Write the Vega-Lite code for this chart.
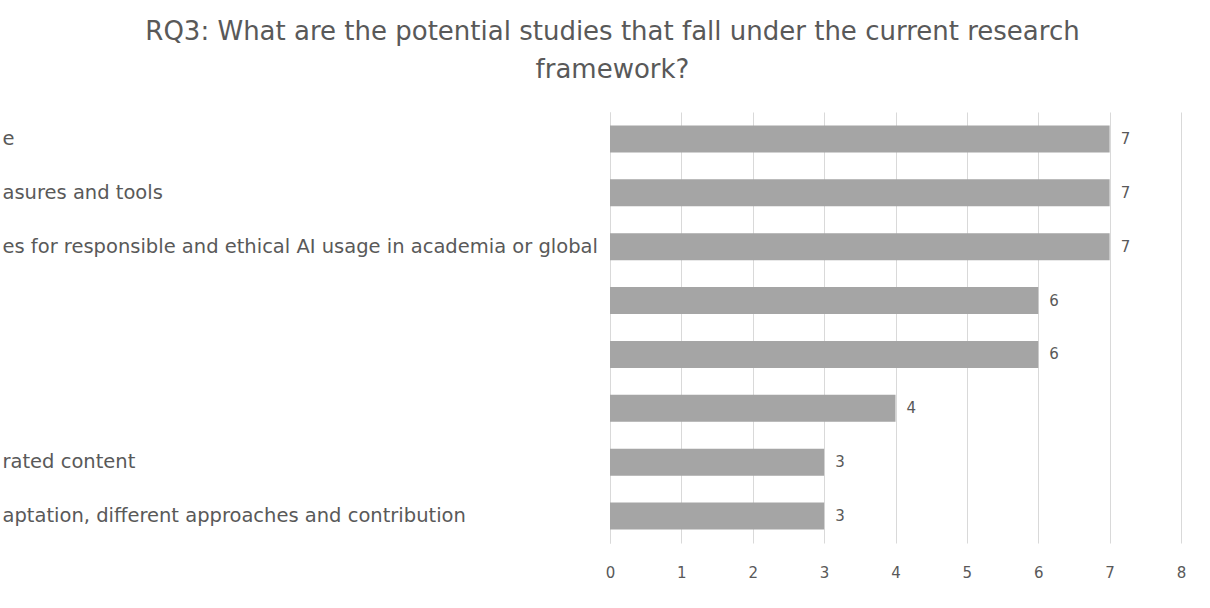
{
  "$schema": "https://vega.github.io/schema/vega-lite/v6.json",
  "autosize": "none",
  "width": 571,
  "height": 431,
  "padding": {"left": 610, "top": 112, "right": 29, "bottom": 65},
  "background": "white",
  "title": {
    "text": ["RQ3: What are the potential studies that fall under the current research", "framework?"],
    "font": "DejaVu Sans",
    "fontSize": 26,
    "fontWeight": "normal",
    "color": "#595959",
    "anchor": "middle",
    "frame": "group",
    "dx": -283,
    "offset": 29,
    "lineHeight": 38
  },
  "data": {
    "values": [
      {"topic": "e", "count": 7},
      {"topic": "asures and tools", "count": 7},
      {"topic": "es for responsible and ethical AI usage in academia or global", "count": 7},
      {"topic": " ", "count": 6},
      {"topic": "  ", "count": 6},
      {"topic": "   ", "count": 4},
      {"topic": "rated content", "count": 3},
      {"topic": "aptation, different approaches and contribution", "count": 3}
    ]
  },
  "encoding": {
    "y": {
      "field": "topic",
      "type": "nominal",
      "sort": null,
      "scale": {"paddingInner": 0.5, "paddingOuter": 0.25},
      "axis": {
        "title": null,
        "ticks": false,
        "domain": true,
        "domainColor": "#d9d9d9",
        "labelAlign": "left",
        "labelPadding": 608,
        "labelLimit": 0,
        "labelFont": "DejaVu Sans",
        "labelFontSize": 19.5,
        "labelColor": "#595959"
      }
    },
    "x": {
      "field": "count",
      "type": "quantitative",
      "scale": {"domain": [0, 8]},
      "axis": {
        "title": null,
        "values": [0, 1, 2, 3, 4, 5, 6, 7, 8],
        "labelOverlap": false,
        "labelFlush": false,
        "ticks": false,
        "domain": false,
        "grid": true,
        "gridColor": "#d9d9d9",
        "labelPadding": 22,
        "labelFont": "DejaVu Sans",
        "labelFontSize": 15,
        "labelColor": "#595959"
      }
    }
  },
  "layer": [
    {"mark": {"type": "bar", "color": "#a5a5a5"}},
    {
      "mark": {"type": "text", "align": "left", "dx": 11, "font": "DejaVu Sans", "fontSize": 15, "color": "#595959"},
      "encoding": {"text": {"field": "count", "type": "quantitative"}}
    }
  ],
  "config": {"view": {"stroke": null}}
}
